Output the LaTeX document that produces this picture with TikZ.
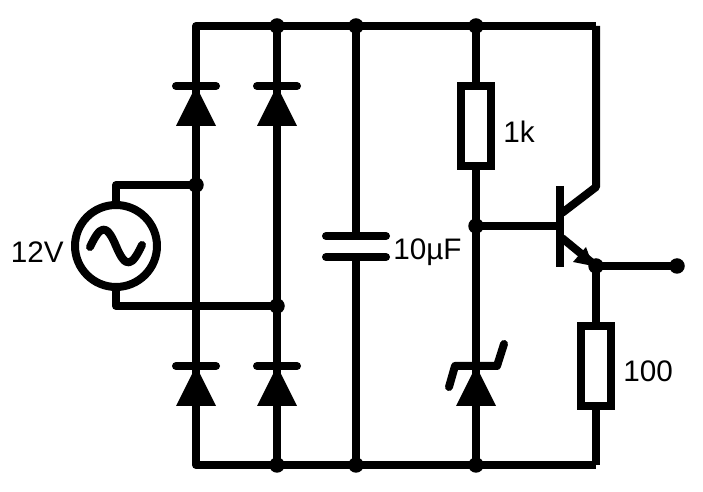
\documentclass[tikz,border=0pt]{standalone}
\usepackage{fontspec}
\setmainfont{Liberation Sans}
\usepackage{tikz}
\usetikzlibrary{positioning}
\usetikzlibrary{arrows}

\tikzset{
  wire/.style={line width=0.16cm,line join=round},
  dot/.style={circle,fill=black,inner sep=0pt,outer sep=-1pt,minimum size=0.31cm},
  resistor/.style={draw,line width=0.16cm,fill=white,inner sep=0pt,minimum width=0.6cm,minimum height=1.6cm},
  source/.style={circle,draw,line width=0.16cm,inner sep=0pt,minimum size=1.64cm},
  label/.style={font=\fontsize{16.9}{20}\selectfont,inner sep=0pt},
}

\begin{document}
\begin{tikzpicture}[x=0.02cm,y=-0.02cm]
      \path[use as bounding box] (0,0) rectangle (703,492);

      % rails
      \coordinate (tl) at (196,26);
      \coordinate (tr) at (596,26);
      \coordinate (bl) at (196,465);
      \coordinate (br) at (596,465);
      \node[dot] (t2) at (277,26) {};
      \node[dot] (t3) at (356,26) {};
      \node[dot] (t4) at (476,26) {};
      \node[dot] (b2) at (277,465) {};
      \node[dot] (b3) at (356,465) {};
      \node[dot] (b4) at (476,465) {};
      \draw[wire] (tr) -- (tl) -- (bl) -- (br);
      \draw[wire] (t2) -- (b2);

      % source
      \node[source] (ac) at (116,246) {};
      \node[dot] (acp) at (196,185) {};
      \node[dot] (acn) at (277,306) {};
      \draw[wire] (ac) -- (116,185) -- (acp);
      \draw[wire] (ac) -- (116,306) -- (acn);
      \draw[wire,line cap=round] (90,247) .. controls (100,226) and (106,222) .. (116,246) .. controls (126,270) and (132,266) .. (142,245);
      \node[label,anchor=east] (acl) at (64,252) {12V};

      % diodes
      \foreach \px/\py in {196/86,277/86,196/366,277/366,476/366}
        \fill (\px-20,\py+40) -- (\px+20,\py+40) -- (\px,\py) -- cycle;
      \foreach \px/\py in {196/86,277/86,196/366,277/366}
        \draw[wire,line cap=round] (\px-20,\py) -- (\px+20,\py);
      \draw[wire,line cap=round] (449,387) -- (455,366) -- (497,366) -- (504,344);

      % capacitor
      \coordinate (c1) at (356,236);
      \coordinate (c2) at (356,257);
      \draw[wire] (t3) -- (c1);
      \draw[wire] (c2) -- (b3);
      \draw[wire,line cap=round] (326,236) -- (386,236);
      \draw[wire,line cap=round] (326,257) -- (386,257);
      \node[label,anchor=west] (cl) at (393,252) {10µF};

      % transistor
      \node[dot] (base) at (476,226) {};
      \node[resistor] (r1) at (476,126) {};
      \node[label,anchor=west] (r1l) at (503,132) {1k};
      \draw[wire] (t4) -- (r1) -- (base) -- (b4);
      \coordinate (bar) at (560,226);
      \draw[wire] (base) -- (bar);
      \draw[wire] (560,186) -- (560,267);
      \draw[wire] (tr) -- (596,187) -- (562,213);
      \node[dot] (em) at (596,266) {};
      \draw[wire] (562,238) -- (em);
      \fill (593,266) -- (573,262) -- (586,247) -- cycle;

      % load
      \node[dot] (out) at (677,266) {};
      \node[resistor] (r2) at (596,366) {};
      \node[label,anchor=west] (r2l) at (623,371) {100};
      \draw[wire] (em) -- (out);
      \draw[wire] (em) -- (r2) -- (br);
\end{tikzpicture}
\end{document}
